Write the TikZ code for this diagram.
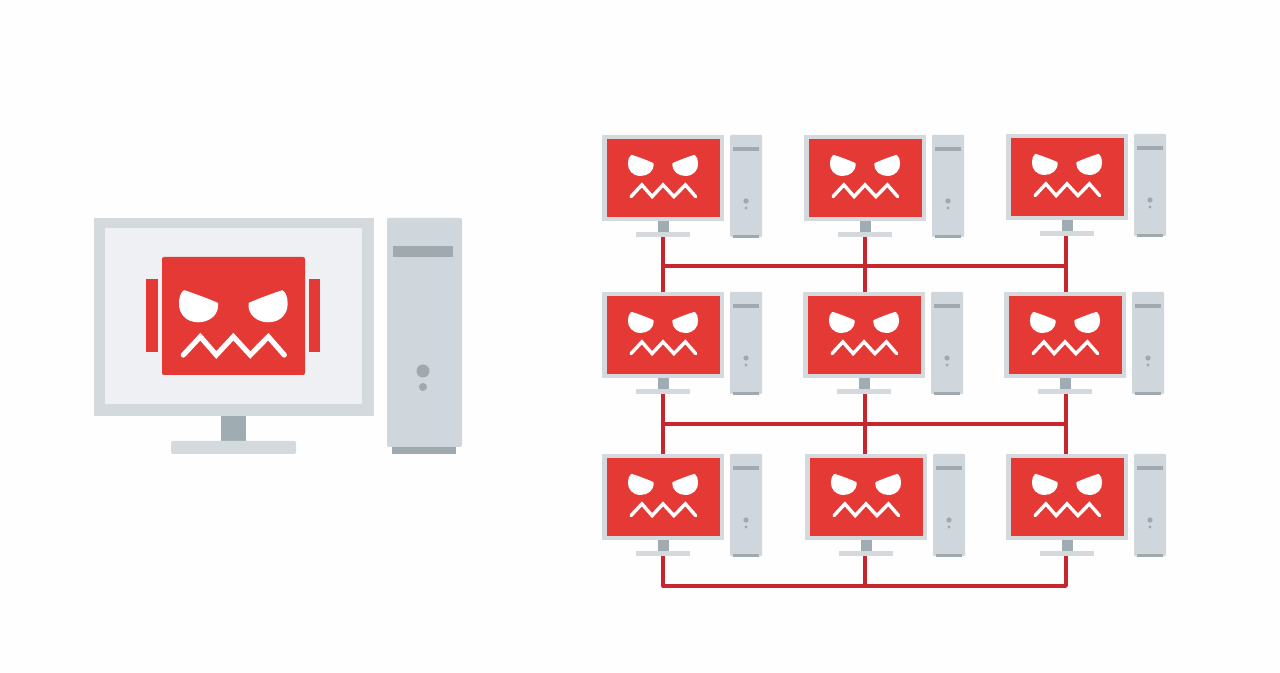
\documentclass[tikz,border=0pt]{standalone}
\definecolor{frameC}{HTML}{D3D9DC}
\definecolor{screenC}{HTML}{EEF0F3}
\definecolor{standC}{HTML}{9FADB3}
\definecolor{towerC}{HTML}{CFD6DC}
\definecolor{slotC}{HTML}{9FA9AE}
\definecolor{redC}{HTML}{E53935}
\definecolor{wireC}{HTML}{C8262E}
\tikzset{
  x=0.5pt,y=-0.5pt,
  wire/.style={draw=wireC,line width=1.7pt},
  mouthline/.style={draw=white,line cap=round,line join=miter},
  eyeshape/.style={fill=white,draw=white,line width=0.8pt,line join=round},
  smallpc/.pic={
    \coordinate (-top) at (61,0);
    \coordinate (-base) at (61,102);
    \fill[frameC] (0,0) rectangle (122,86);
    \fill[redC] (5,4) rectangle (118,82);
    \begin{scope}[shift={(61,45.6)},scale=0.64]
      \path[eyeshape] (-49,-39) .. controls (-40,-36) and (-26,-31) .. (-16,-26.5) .. controls (-15,-15) and (-25,-8.5) .. (-35,-8.5) .. controls (-47,-8.5) and (-54,-17) .. (-53.5,-27) .. controls (-53.5,-32) and (-52,-37) .. (-49,-39) -- cycle;
      \path[eyeshape] (49,-39) .. controls (40,-36) and (26,-31) .. (16,-26.5) .. controls (15,-15) and (25,-8.5) .. (35,-8.5) .. controls (47,-8.5) and (54,-17) .. (53.5,-27) .. controls (53.5,-32) and (52,-37) .. (49,-39) -- cycle;
      \draw[mouthline,line width=1.7pt] (-50,25) -- (-33,6.7) -- (-17,25) -- (0,6.7) -- (17,25) -- (35,6.7) -- (51,25);
    \end{scope}
    \fill[standC] (55.5,86) rectangle (66.5,97);
    \fill[frameC] (34,97) rectangle (88,102);
    \fill[towerC,rounded corners=0.5pt] (128,0) rectangle (160,102);
    \fill[slotC] (131,12) rectangle (157,16);
    \fill[slotC] (131,100) rectangle (157,103);
    \fill[slotC] (144,66) circle (2.6);
    \fill[slotC] (144,73) circle (1.7);
  }
}
\begin{document}
\begin{tikzpicture}
\useasboundingbox (0,0) rectangle (1280,673);
\fill[white!99.5!black] (0,0) rectangle (1280,673);
% wires below the machines
\coordinate (j1) at (663,266);
\coordinate (j2) at (1066,266);
\coordinate (j3) at (663,424);
\coordinate (j4) at (1066,424);
\coordinate (j5) at (663,586);
\coordinate (j6) at (1066,586);
\coordinate (m3) at (865,586);
\coordinate (t1) at (663,235);
\coordinate (t2) at (865,235);
\coordinate (t3) at (1066,235);
\coordinate (u1) at (663,294);
\coordinate (u2) at (865,294);
\coordinate (u3) at (1066,294);
\coordinate (v1) at (663,392);
\coordinate (v2) at (865,392);
\coordinate (v3) at (1066,392);
\coordinate (w1) at (663,456);
\coordinate (w2) at (865,456);
\coordinate (w3) at (1066,456);
\coordinate (z1) at (663,555);
\coordinate (z2) at (865,555);
\coordinate (z3) at (1066,555);
\draw[wire] (t1) -- (u1);
\draw[wire] (t2) -- (u2);
\draw[wire] (t3) -- (u3);
\draw[wire] (v1) -- (w1);
\draw[wire] (v2) -- (w2);
\draw[wire] (v3) -- (w3);
\draw[wire] (j1) -- (j2);
\draw[wire] (j3) -- (j4);
\draw[wire,line join=round] (z1) -- (j5) -- (j6) -- (z3);
\draw[wire] (z2) -- (m3);
% network of machines
\pic (c11) at (602,135) {smallpc};
\pic (c12) at (804,135) {smallpc};
\pic (c13) at (1006,134) {smallpc};
\pic (c21) at (602,292) {smallpc};
\pic (c22) at (803,292) {smallpc};
\pic (c23) at (1004,292) {smallpc};
\pic (c31) at (602,454) {smallpc};
\pic (c32) at (805,454) {smallpc};
\pic (c33) at (1006,454) {smallpc};
% large machine
\fill[frameC] (94,218) rectangle (374,416);
\fill[screenC] (105,228) rectangle (362,404);
\fill[standC] (221,416) rectangle (246,441);
\fill[frameC,rounded corners=1pt] (171,441) rectangle (296,454);
\fill[towerC,rounded corners=1pt] (387,218) rectangle (462,447);
\fill[slotC] (392,447) rectangle (456,454);
\fill[slotC] (393,246) rectangle (453,257);
\fill[slotC] (423,371) circle (6.5);
\fill[slotC] (423,387) circle (4);
\fill[redC,rounded corners=1pt] (162,257) rectangle (305,375);
\fill[redC] (146,279) rectangle (158,352);
\fill[redC] (309,279) rectangle (320,352);
\begin{scope}[shift={(233.3,330)}]
  \path[eyeshape] (-49,-39) .. controls (-40,-36) and (-26,-31) .. (-16,-26.5) .. controls (-15,-15) and (-25,-8.5) .. (-35,-8.5) .. controls (-47,-8.5) and (-54,-17) .. (-53.5,-27) .. controls (-53.5,-32) and (-52,-37) .. (-49,-39) -- cycle;
  \path[eyeshape] (49,-39) .. controls (40,-36) and (26,-31) .. (16,-26.5) .. controls (15,-15) and (25,-8.5) .. (35,-8.5) .. controls (47,-8.5) and (54,-17) .. (53.5,-27) .. controls (53.5,-32) and (52,-37) .. (49,-39) -- cycle;
  \draw[mouthline,line width=2.6pt] (-50,25) -- (-33,6.7) -- (-17,25) -- (0,6.7) -- (17,25) -- (35,6.7) -- (51,25);
\end{scope}
\end{tikzpicture}
\end{document}
